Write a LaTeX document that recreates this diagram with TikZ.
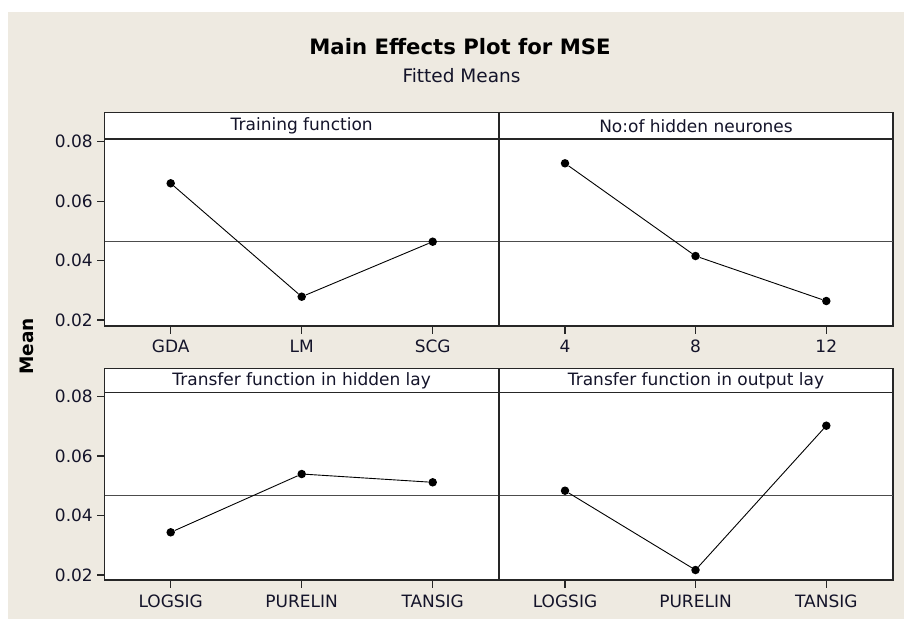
\documentclass[tikz,border=0pt]{standalone}
\usepackage{fontspec}
\setmainfont{DejaVu Sans}
\definecolor{bgcol}{HTML}{EEEAE1}
\definecolor{inkcol}{HTML}{14142A}
\begin{document}
\begin{tikzpicture}[x=1pt,y=-1pt,
  panel/.style={draw=black!85, line width=1.6pt, fill=white},
  refline/.style={draw=black!70, line width=1.1pt},
  dataline/.style={draw=black, line width=0.9pt},
  dot/.style={circle, fill=black, inner sep=0pt, minimum size=8.5pt},
  lab/.style={font=\fontsize{17}{20}\selectfont, text=inkcol, inner sep=0pt},
  ticklab/.style={lab, anchor=east},
  xlab/.style={lab, anchor=center},
  tickmark/.style={draw=black!85, line width=1.1pt}]
\useasboundingbox (0,0) rectangle (904,619);
\fill[white] (0,0) rectangle (904,619);
\fill[bgcol] (8,12) rectangle (904,619);

% titles
\node[font=\bfseries\fontsize{21.2}{25}\selectfont, inner sep=0pt] (title) at (460,47) {Main Effects Plot for MSE};
\node[font=\fontsize{18.5}{22}\selectfont, text=inkcol, inner sep=0pt] (subtitle) at (461.5,76) {Fitted Means};
\node[font=\bfseries\fontsize{18.5}{22}\selectfont, rotate=90, inner sep=0pt] (ylab) at (26.5,346.5) {Mean};

% ---------- top row ----------
\draw[panel] (104.5,112.5) rectangle (892.7,326);
\draw[refline] (104.5,241.7) -- (892.7,241.7);
\draw[panel, fill=none] (104.5,139) -- (892.7,139);
\draw[panel, fill=none] (499,112.5) -- (499,326);
\node[lab] (s1) at (301.7,125.7) {Training function};
\node[lab] (s2) at (696,125.7) {No:of hidden neurones};

\foreach \v/\y in {0.08/141.7,0.06/201.2,0.04/260.7,0.02/320}{
  \draw[tickmark] (97,\y) -- (104.5,\y);
  \node[ticklab] at (93,\y) {\v};
}
\foreach \x/\t in {170.7/GDA,301.7/LM,432.7/SCG,565/4,695.5/8,826.3/12}{
  \draw[tickmark] (\x,326) -- (\x,333.5);
  \node[xlab] at (\x,346.5) {\t};
}
\node[dot] (a1) at (170.7,183.3) {};
\node[dot] (a2) at (301.7,296.7) {};
\node[dot] (a3) at (432.7,241.7) {};
\draw[dataline] (a1) -- (a2) -- (a3);
\node[dot] (b1) at (565,163.3) {};
\node[dot] (b2) at (695.5,256) {};
\node[dot] (b3) at (826.3,301) {};
\draw[dataline] (b1) -- (b2) -- (b3);

% ---------- bottom row ----------
\draw[panel] (104.5,368.3) rectangle (892.7,580);
\draw[refline] (104.5,495.2) -- (892.7,495.2);
\draw[panel, fill=none] (104.5,392.4) -- (892.7,392.4);
\draw[panel, fill=none] (499,368.3) -- (499,580);
\node[lab] (s3) at (301.7,380.5) {Transfer function in hidden lay};
\node[lab] (s4) at (696,380.5) {Transfer function in output lay};

\foreach \v/\y in {0.08/396.7,0.06/456,0.04/515.4,0.02/575}{
  \draw[tickmark] (97,\y) -- (104.5,\y);
  \node[ticklab] at (93,\y) {\v};
}
\foreach \x/\t in {170.7/LOGSIG,301.7/PURELIN,432.7/TANSIG,565/LOGSIG,695.5/PURELIN,826.3/TANSIG}{
  \draw[tickmark] (\x,580) -- (\x,587.5);
  \node[xlab] at (\x,601.5) {\t};
}
\node[dot] (c1) at (170.7,532.3) {};
\node[dot] (c2) at (301.7,474) {};
\node[dot] (c3) at (432.7,482.3) {};
\draw[dataline] (c1) -- (c2) -- (c3);
\node[dot] (d1) at (565,490.7) {};
\node[dot] (d2) at (695.5,570) {};
\node[dot] (d3) at (826.3,425.7) {};
\draw[dataline] (d1) -- (d2) -- (d3);
\end{tikzpicture}
\end{document}
